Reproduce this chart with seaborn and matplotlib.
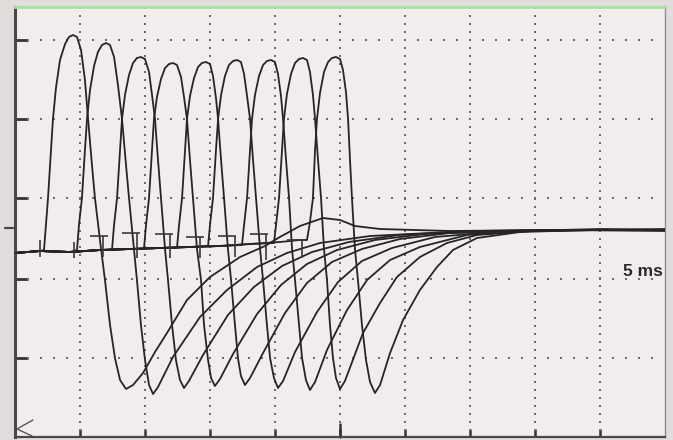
import numpy as np
import pandas as pd
import matplotlib
matplotlib.use("Agg")
import matplotlib.pyplot as plt
import seaborn as sns
from matplotlib.transforms import blended_transform_factory

sns.set_style("white")
plt.rcParams['font.family'] = ['Liberation Sans', 'DejaVu Sans']

# ---------------- data (time in ms, amplitude in arbitrary mV-like units) ----------------
# common pre-stimulus baseline (shared by all sweeps until each one's onset)
pre_t = [0.00, 1.92, 4.23, 6.54, 8.85, 11.15, 13.46, 15.77, 18.08, 20.38, 21.92]
pre_v = [-2.3, -2.1, -2.2, -2.0, -1.9, -1.8, -1.7, -1.6, -1.4, -1.2, -1.0]
n_pre = [2, 3, 4, 5, 6, 7, 8, 9, 11]

sw1_t = [2.23, 2.38, 2.54, 2.77, 2.92, 3.15, 3.46, 3.85, 4.15, 4.46, 4.77, 5.08, 5.38, 5.62, 5.92,
         6.15, 6.62, 6.92, 7.31, 7.69, 8.08, 8.54, 9.08, 9.85, 10.77, 11.69, 13.23, 15.00, 17.31,
         19.23, 20.38, 21.92, 23.69, 25.00, 26.15, 28.08, 33.46, 41.15, 50.00]
sw1_v = [-2.0, 0.5, 3.2, 8.0, 11.1, 14.2, 17.0, 18.6, 19.3, 19.5, 19.3, 18.0, 15.0, 11.1, 6.5,
         3.2, -1.9, -5.0, -9.5, -12.8, -15.0, -15.9, -15.5, -14.3, -12.2, -10.3, -7.0, -4.7, -2.7,
         -1.6, -0.7, 0.4, 1.2, 1.0, 0.4, 0.1, -0.1, 0.0, 0.0]

sw2_t = [4.77, 4.92, 5.15, 5.38, 5.54, 5.77, 6.08, 6.38, 6.69, 7.00, 7.31, 7.62, 7.92, 8.23, 8.54,
         8.77, 9.15, 9.38, 9.69, 10.00, 10.31, 10.62, 11.00, 12.15, 14.23, 16.31, 18.62, 20.92,
         23.46, 27.31, 33.46, 41.15, 50.00]
sw2_v = [-2.0, 0.5, 3.2, 8.0, 11.1, 14.0, 16.4, 17.8, 18.5, 18.7, 18.5, 17.3, 14.5, 11.1, 6.5,
         3.2, -1.9, -5.0, -9.5, -13.0, -15.5, -16.4, -15.7, -12.7, -8.7, -6.0, -3.7, -2.3,
         -1.3, -0.6, -0.2, 0.0, 0.0]

sw3_t = [7.46, 7.62, 7.85, 8.08, 8.23, 8.46, 8.77, 9.08, 9.38, 9.69, 10.00, 10.31, 10.54, 10.77,
         11.00, 11.23, 11.54, 11.77, 12.08, 12.38, 12.69, 13.00, 13.38, 14.46, 16.38, 18.38, 20.54,
         22.85, 25.69, 29.54, 35.31, 41.92, 50.00]
sw3_v = [-2.0, 0.5, 3.2, 8.0, 11.1, 13.5, 15.5, 16.7, 17.2, 17.3, 17.1, 15.8, 13.5, 11.1,
         7.0, 3.2, -1.9, -5.0, -9.5, -13.0, -15.0, -15.8, -15.1, -12.5, -8.5, -5.7, -3.6,
         -2.2, -1.2, -0.5, -0.1, 0.0, -0.1]

sw4_t = [9.92, 10.08, 10.31, 10.54, 10.69, 10.92, 11.23, 11.54, 11.85, 12.15, 12.46, 12.77, 13.00,
         13.23, 13.46, 13.69, 14.00, 14.31, 14.54, 14.85, 15.08, 15.38, 15.77, 16.77, 18.62, 20.46,
         22.46, 24.77, 27.69, 31.54, 36.92, 43.46, 50.00]
sw4_v = [-1.9, 0.5, 3.2, 8.0, 11.1, 13.3, 15.1, 16.2, 16.6, 16.7, 16.5, 15.3, 13.3,
         11.1, 7.0, 3.2, -1.9, -5.0, -9.5, -13.0, -14.8, -15.6, -14.9, -12.4, -8.4, -5.5,
         -3.4, -2.0, -1.0, -0.4, -0.1, 0.0, 0.1]

sw5_t = [12.46, 12.62, 12.85, 13.08, 13.23, 13.46, 13.77, 14.08, 14.38, 14.69, 15.00, 15.23, 15.46,
         15.62, 15.85, 16.08, 16.38, 16.62, 16.92, 17.15, 17.38, 17.69, 18.08, 19.08, 20.77, 22.46,
         24.38, 26.69, 29.62, 33.46, 38.85, 45.00, 50.00]
sw5_v = [-1.8, 0.5, 3.2, 8.0, 11.1, 13.4, 15.2, 16.3, 16.7, 16.8, 16.6, 15.4, 13.2,
         11.1, 7.0, 3.2, -1.9, -5.0, -9.5, -12.8, -14.6, -15.5, -14.8, -12.3, -8.3, -5.3,
         -3.2, -1.9, -0.9, -0.3, -0.1, 0.1, 0.0]

sw6_t = [14.85, 15.00, 15.23, 15.46, 15.62, 15.85, 16.15, 16.46, 16.77, 17.08, 17.38, 17.62, 17.85,
         18.08, 18.31, 18.54, 18.85, 19.08, 19.38, 19.62, 19.92, 20.23, 20.62, 21.54, 23.23, 24.85,
         26.69, 29.00, 32.31, 36.77, 42.69, 50.00]
sw6_v = [-1.6, 0.5, 3.2, 8.0, 11.1, 13.5, 15.4, 16.5, 16.9, 17.0, 16.8, 15.6, 13.4,
         11.1, 7.0, 3.2, -1.9, -5.0, -9.5, -12.8, -14.8, -15.8, -15.1, -12.2, -8.2, -5.2,
         -3.1, -1.8, -0.7, -0.2, 0.0, 0.0]

sw7_t = [17.46, 17.62, 17.85, 18.08, 18.23, 18.46, 18.77, 19.08, 19.38, 19.69, 20.00, 20.23, 20.46,
         20.62, 20.85, 21.08, 21.31, 21.54, 21.85, 22.08, 22.38, 22.69, 23.08, 24.00, 25.54, 27.08,
         28.85, 31.15, 34.77, 39.62, 45.00, 50.00]
sw7_v = [-1.5, 0.5, 3.2, 8.0, 11.1, 13.5, 15.4, 16.5, 16.9, 17.0, 16.8, 15.6, 13.4,
         11.1, 7.0, 3.2, -1.9, -5.0, -9.5, -12.8, -15.0, -16.0, -15.2, -12.0, -8.0, -5.0,
         -3.0, -1.7, -0.5, -0.1, 0.0, 0.0]

sw8_t = [19.92, 20.08, 20.31, 20.54, 20.69, 20.92, 21.23, 21.54, 21.85, 22.15, 22.46, 22.69, 22.92,
         23.08, 23.31, 23.54, 23.77, 24.00, 24.23, 24.46, 24.69, 25.00, 25.38, 26.77, 28.08, 29.38,
         31.15, 33.23, 35.54, 39.62, 45.00, 50.00]
sw8_v = [-1.3, 0.5, 3.2, 8.0, 11.1, 13.6, 15.6, 16.7, 17.1, 17.2, 17.0, 15.8, 13.5,
         11.1, 7.0, 3.2, -1.9, -5.0, -9.5, -12.8, -14.8, -15.9, -15.1, -10.3, -7.3, -4.7,
         -2.7, -1.3, -0.5, -0.1, 0.0, 0.0]

sw9_t = [22.46, 22.69, 22.92, 23.08, 23.23, 23.46, 23.77, 24.08, 24.38, 24.69, 25.00, 25.23, 25.46,
         25.62, 25.77, 25.92, 26.15, 26.38, 26.69, 27.00, 27.31, 27.69, 28.08, 28.85, 29.85, 31.15,
         32.46, 33.69, 35.54, 38.85, 44.23, 50.00]
sw9_v = [-1.0, 0.8, 3.2, 8.0, 11.1, 13.7, 15.8, 16.8, 17.2, 17.3, 17.1, 16.0, 13.8,
         11.1, 7.0, 3.2, -1.9, -5.0, -9.5, -13.0, -15.2, -16.3, -15.5, -12.3, -9.0, -6.0,
         -3.7, -2.0, -0.8, -0.2, 0.0, 0.0]

# cursor marks ("T" shapes) on the baseline
cur_x0 = [5.77, 8.23, 10.77, 13.15, 15.62, 18.08, 20.92]
cur_x1 = [7.15, 9.62, 12.15, 14.54, 17.00, 19.46, 22.31]
cur_y = [-0.6, -0.3, -0.4, -0.7, -0.6, -0.4, -1.0]
cur_xv = [6.77, 9.38, 11.92, 14.23, 16.92, 19.31, 22.08]
cur_yv = [-2.7, -2.8, -2.8, -2.8, -2.7, -3.0, -2.8]
art_x = [1.92, 4.54]
art_y0 = [-1.0, -1.2]
art_y1 = [-2.7, -2.8]

label_text = "5 ms"

# ---------------- figure ----------------
sweeps_t = [sw1_t, sw2_t, sw3_t, sw4_t, sw5_t, sw6_t, sw7_t, sw8_t, sw9_t]
sweeps_v = [sw1_v, sw2_v, sw3_v, sw4_v, sw5_v, sw6_v, sw7_v, sw8_v, sw9_v]
frames = []
for i, (tt, vv, n) in enumerate(zip(sweeps_t, sweeps_v, n_pre)):
    frames.append(pd.DataFrame({"t": pre_t[:n] + tt, "v": pre_v[:n] + vv, "sweep": i + 1}))
df = pd.concat(frames, ignore_index=True)

fig = plt.figure(figsize=(6.73, 4.40), dpi=100, facecolor="#e2dcdd")
ax = fig.add_axes([15 / 673, 3 / 440, 650 / 673, 430 / 440])
ax.set_facecolor("#f1eded")

x_min, x_max = 0, 50
y_min, y_max = -20.7, 22.3
grid_v = [19.0, 11.1, 3.2, -4.9, -12.8]
grid_t = [5, 10, 15, 20, 25, 30, 35, 40, 45]

# dotted graticule
hx = np.arange(1, 50, 1.0)
for gv in grid_v:
    ax.scatter(hx, np.full_like(hx, gv), s=2.4, marker="s", color="#6f6c6e", lw=0, zorder=1)
step = 7.95 / 10
vy = np.arange(-12.8 - 10 * step, y_max, step)
for gt in grid_t:
    ax.scatter(np.full_like(vy, gt), vy, s=2.4, marker="s", color="#6f6c6e", lw=0, zorder=1)

sns.lineplot(data=df, x="t", y="v", units="sweep", estimator=None, sort=False,
             color="#262427", lw=1.3, ax=ax, legend=False, zorder=3)

ax.hlines(cur_y, cur_x0, cur_x1, color="#3a3839", lw=1.2, zorder=3)
ax.vlines(cur_xv, cur_y, cur_yv, color="#3a3839", lw=1.2, zorder=3)
ax.vlines(art_x, art_y0, art_y1, color="#3a3839", lw=1.2, zorder=3)

# ground marker left of the screen and the "<" marker
ax.plot([-0.77, -0.15], [0.2, 0.2], color="#444", lw=1.6, clip_on=False)
ax.plot([1.38, 0.15, 1.31], [-19.0, -19.9, -20.6], color="#555", lw=1.0)

ax.text(49.8, -4.1, label_text, ha="right", va="center", fontsize=12.5,
        fontweight="bold", color="#2a2a2a")

ax.set_xlim(x_min, x_max)
ax.set_ylim(y_min, y_max)
ax.set_xticks(grid_t)
ax.set_yticks(grid_v)
ax.set_xticklabels([])
ax.set_yticklabels([])
ax.set_xlabel("")
ax.set_ylabel("")
ax.tick_params(axis="y", direction="in", length=9.5, width=2.0, color="#333", left=True)
ax.tick_params(axis="x", direction="in", length=5.5, width=1.8, color="#333", bottom=True)
trans = blended_transform_factory(ax.transData, ax.transAxes)
ax.plot([25, 25], [0, 13 / 430], color="#333", lw=1.8, transform=trans, clip_on=False)

for side, col, w in [("left", "#4a4748", 2.2), ("bottom", "#4a4748", 1.6),
                     ("right", "#8a86b8", 1.0), ("top", "#a6e3a0", 2.0)]:
    ax.spines[side].set_visible(True)
    ax.spines[side].set_color(col)
    ax.spines[side].set_linewidth(w)

fig.savefig("out.png", dpi=100, facecolor=fig.get_facecolor())
